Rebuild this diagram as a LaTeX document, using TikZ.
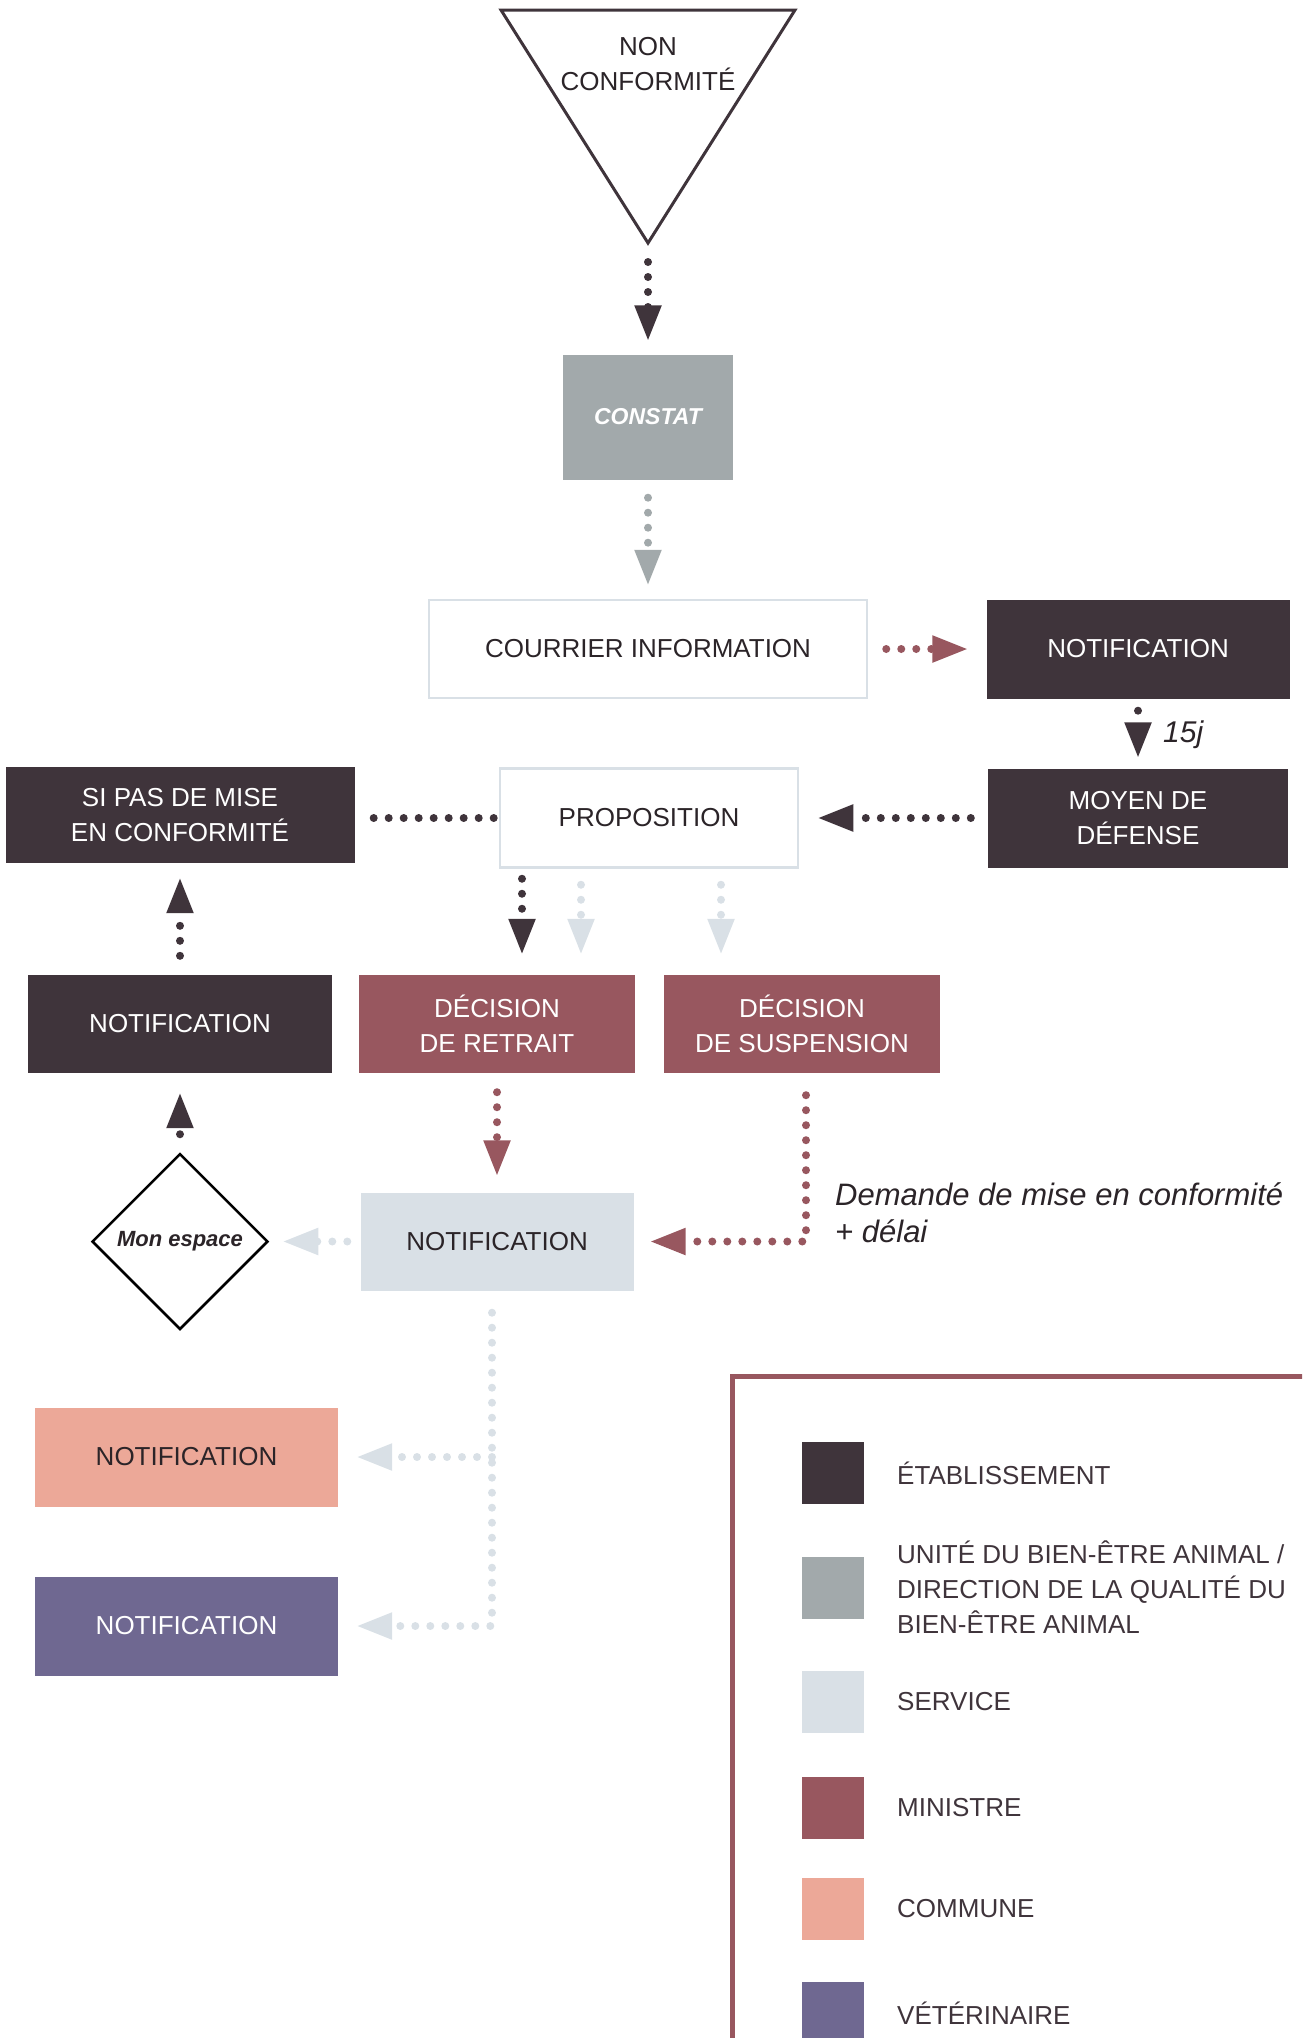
\documentclass[tikz,border=0pt]{standalone}
\usepackage{fontspec}
\setmainfont{Liberation Sans}
\usetikzlibrary{arrows.meta,shapes.geometric}
\definecolor{cEst}{HTML}{3F343B}
\definecolor{cUba}{HTML}{A2A9AB}
\definecolor{cSrv}{HTML}{D9E0E6}
\definecolor{cMin}{HTML}{98575F}
\definecolor{cCom}{HTML}{ECA898}
\definecolor{cVet}{HTML}{6F6891}
\definecolor{cTxt}{HTML}{2B2428}
\tikzset{
  lbl/.style={font=\fontsize{26}{35}\selectfont},
  box/.style={lbl, rectangle, inner sep=0pt, align=center},
  estbox/.style={box, fill=cEst, text=white},
  ubabox/.style={box, fill=cUba, text=white},
  srvbox/.style={box, fill=cSrv, text=cTxt},
  minbox/.style={box, fill=cMin, text=white},
  combox/.style={box, fill=cCom, text=cTxt},
  vetbox/.style={box, fill=cVet, text=white},
  outbox/.style={box, draw=cSrv, line width=2.5pt, fill=white, text=cTxt},
  dots/.style={line width=8pt, line cap=round, dash pattern=on 0pt off 15pt},
  arrowhd/.style={-{Triangle[length=36pt,width=25pt]}},
  legtxt/.style={lbl, text=cEst, anchor=west, align=left, inner sep=0pt},
}
\begin{document}
\begin{tikzpicture}[x=1pt,y=-1pt]
\path[use as bounding box] (0,0) rectangle (1302,2038);
\clip (0,0) rectangle (1302,2038);

% triangle
\draw[cEst, line width=3pt] (501,10) -- (795,10) -- (648,243) -- cycle;
\coordinate (tri) at (648,243);
\node[lbl, text=cTxt, align=center, inner sep=0pt] (nc) at (648,64) {NON\\CONFORMITÉ};

% nodes
\node[ubabox, minimum width=170pt, minimum height=125pt, font=\fontsize{23}{28}\selectfont\bfseries\itshape] (constat) at (648,417) {CONSTAT};
\node[outbox, minimum width=438pt, minimum height=98pt] (courrier) at (648,649) {COURRIER INFORMATION};
\node[estbox, minimum width=303pt, minimum height=99pt] (notifA) at (1138,649) {NOTIFICATION};
\node[estbox, minimum width=300pt, minimum height=99pt] (moyen) at (1138,818) {MOYEN DE\\DÉFENSE};
\node[outbox, minimum width=298pt, minimum height=99pt] (prop) at (649,818) {PROPOSITION};
\node[estbox, minimum width=349pt, minimum height=96pt] (sipas) at (180,815) {SI PAS DE MISE\\EN CONFORMITÉ};
\node[estbox, minimum width=304pt, minimum height=98pt] (notifB) at (180,1024) {NOTIFICATION};
\node[minbox, minimum width=276pt, minimum height=98pt] (retrait) at (497,1024) {DÉCISION\\DE RETRAIT};
\node[minbox, minimum width=276pt, minimum height=98pt] (susp) at (802,1024) {DÉCISION\\DE SUSPENSION};
\node[srvbox, minimum width=273pt, minimum height=98pt] (notifC) at (497,1241.5) {NOTIFICATION};
\node[diamond, draw=black, line width=2.5pt, fill=white, minimum width=176pt, minimum height=176pt, inner sep=0pt, font=\fontsize{22}{26}\selectfont\bfseries\itshape, text=cTxt] (espace) at (180,1241.5) {Mon espace};
\node[combox, minimum width=303pt, minimum height=99pt] (notifD) at (186.5,1457) {NOTIFICATION};
\node[vetbox, minimum width=303pt, minimum height=99pt] (notifE) at (186.5,1626) {NOTIFICATION};

\node[font=\fontsize{30}{36}\selectfont\itshape, text=cTxt, anchor=base west, inner sep=0pt] (j15) at (1163,742) {15j};
\node[font=\fontsize{31}{37}\selectfont\itshape, text=cTxt, anchor=north west, align=left, inner sep=0pt] (dem) at (835,1182) {Demande de mise en conformité\\+ délai};

% connectors
\draw[dots, cEst, arrowhd, shorten <=19pt, shorten >=13pt] (tri) -- (constat);
\draw[dots, cUba, arrowhd, shorten <=18pt, shorten >=13pt] (constat) -- (courrier);
\draw[dots, cMin, arrowhd, shorten <=18pt, shorten >=18pt] (courrier) -- (notifA);
\draw[dots, cEst, arrowhd, shorten <=12pt, shorten >=10pt] (notifA) -- (moyen);
\draw[dots, cEst, arrowhd, shorten <=17pt, shorten >=18pt] (moyen) -- (prop);
\draw[dots, cEst, shorten <=19pt, shorten >=4pt] (sipas.east |- prop.west) -- (prop.west);
\draw[dots, cEst, arrowhd, shorten <=10pt, shorten >=20pt] ([xshift=-127pt]prop.south) -- ([xshift=25pt]retrait.north);
\draw[dots, cSrv, arrowhd, shorten <=16pt, shorten >=20pt] ([xshift=-68pt]prop.south) -- ([xshift=84pt]retrait.north);
\draw[dots, cSrv, arrowhd, shorten <=16pt, shorten >=20pt] ([xshift=72pt]prop.south) -- ([xshift=-81pt]susp.north);
\draw[dots, cEst, arrowhd, shorten <=19pt, shorten >=14pt] (notifB) -- (sipas);
\draw[dots, cEst, arrowhd, shorten <=18pt, shorten >=19pt] (espace) -- (notifB);
\draw[dots, cMin, arrowhd, shorten <=19pt, shorten >=16pt] (retrait) -- (notifC);
\draw[dots, cMin, arrowhd, shorten <=22pt, shorten >=16pt] ([xshift=4pt]susp.south) |- (notifC.east);
\draw[dots, cSrv, arrowhd, shorten <=13pt, shorten >=13pt] (notifC) -- (espace);
\coordinate (trunk) at ([xshift=-5pt]notifC.south);
\draw[dots, cSrv, arrowhd, shorten <=22pt, shorten >=18pt] (trunk) |- (notifE.east);
\draw[dots, cSrv, arrowhd, shorten >=18pt] (trunk |- notifD.east) -- (notifD.east);

% legend
\draw[cMin, line width=5pt] (732,1376) rectangle (1340,2100);
\node[estbox, minimum width=62pt, minimum height=62pt] (lg1) at (833,1473) {};
\node[ubabox, minimum width=62pt, minimum height=62pt] (lg2) at (833,1587.5) {};
\node[srvbox, minimum width=62pt, minimum height=62pt] (lg3) at (833,1702) {};
\node[minbox, minimum width=62pt, minimum height=62pt] (lg4) at (833,1807.5) {};
\node[combox, minimum width=62pt, minimum height=62pt] (lg5) at (833,1909) {};
\node[vetbox, minimum width=62pt, minimum height=62pt] (lg6) at (833,2013) {};
\node[legtxt] (lt1) at (897,1473) {ÉTABLISSEMENT};
\node[legtxt] (lt2) at (897,1587.5) {UNITÉ DU BIEN-ÊTRE ANIMAL /\\DIRECTION DE LA QUALITÉ DU\\BIEN-ÊTRE ANIMAL};
\node[legtxt] (lt3) at (897,1702) {SERVICE};
\node[legtxt] (lt4) at (897,1807.5) {MINISTRE};
\node[legtxt] (lt5) at (897,1909) {COMMUNE};
\node[legtxt] (lt6) at (897,2013) {VÉTÉRINAIRE};
\end{tikzpicture}
\end{document}
